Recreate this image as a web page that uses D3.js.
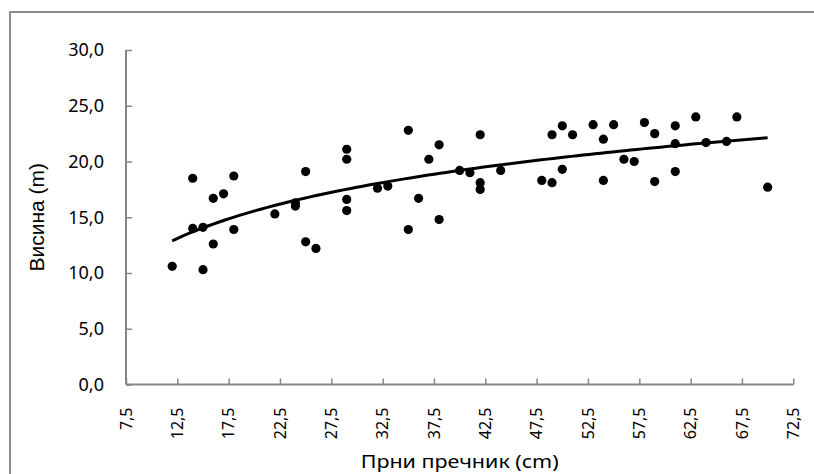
<!DOCTYPE html>
<html lang="sr">
<head>
  <meta charset="UTF-8" />
  <title>Висина / Прни пречник</title>
  <style>
    body {
      margin: 0;
      background: #fff;
    }
    svg {
      display: block;
    }
    .tick-label {
      font-family: 'Noto Sans', sans-serif;
      fill: #000;
    }
    .axis-title-x {
      font-family: 'Noto Sans', sans-serif;
      font-size: 18px;
      fill: #000;
    }
    .axis-title-y {
      font-family: 'Liberation Sans', Arial, sans-serif;
      font-size: 21px;
      fill: #000;
    }
  </style>
</head>
<body>
  <svg id="chart" width="814" height="474"></svg>

  <script src="https://d3js.org/d3.v7.min.js"></script>
  <script>
    // Data
    const diameters = [12, 14, 14, 15, 15, 16, 16, 17, 18, 18,
                       22, 24, 24, 25, 25, 26, 29, 29, 29, 29,
                       32, 33, 35, 35, 36, 37, 38, 38, 40, 41,
                       42, 42, 42, 44, 48, 49, 49, 50, 50, 51,
                       53, 54, 54, 55, 56, 57, 58, 59, 59, 61,
                       61, 61, 63, 64, 66, 67, 70];
    const heights   = [10.6, 18.5, 14.0, 14.1, 10.3, 16.7, 12.6, 17.1, 18.7, 13.9,
                       15.3, 16.3, 16.0, 19.1, 12.8, 12.2, 21.1, 20.2, 16.6, 15.6,
                       17.6, 17.8, 22.8, 13.9, 16.7, 20.2, 21.5, 14.8, 19.2, 19.0,
                       22.4, 18.1, 17.5, 19.2, 18.3, 22.4, 18.1, 23.2, 19.3, 22.4,
                       23.3, 22.0, 18.3, 23.3, 20.2, 20.0, 23.5, 22.5, 18.2, 23.2,
                       21.6, 19.1, 24.0, 21.7, 21.8, 24.0, 17.7];
    const xTicks = [7.5, 12.5, 17.5, 22.5, 27.5, 32.5, 37.5, 42.5, 47.5, 52.5, 57.5, 62.5, 67.5, 72.5];
    const yTicks = [0, 5, 10, 15, 20, 25, 30];

    const points = diameters.map((d, i) => ({ x: d, y: heights[i] }));

    const svg = d3.select("#chart");
    const margin = { top: 50, left: 126, right: 20.7, bottom: 89.5 };
    const width = +svg.attr("width");
    const height = +svg.attr("height");
    const plotW = width - margin.left - margin.right;
    const plotH = height - margin.top - margin.bottom;

    // outer chart frame (runs past the right and bottom edges)
    svg.append("rect")
       .attr("x", 10).attr("y", 12)
       .attr("width", 830).attr("height", 500)
       .attr("fill", "none")
       .attr("stroke", "#8c8c8c")
       .attr("stroke-width", 2);

    const x = d3.scaleLinear().domain([7.5, 72.5]).range([0, plotW]);
    const y = d3.scaleLinear().domain([0, 30]).range([plotH, 0]);

    const g = svg.append("g")
                 .attr("transform", `translate(${margin.left},${margin.top})`);

    const fmt = v => d3.format(".1f")(v).replace(".", ",");

    // y axis, ticks pointing into the plot
    const yAxis = g.append("g")
                   .call(d3.axisRight(y).tickValues(yTicks).tickSize(6).tickFormat(""));
    yAxis.select(".domain").remove();
    yAxis.selectAll(".tick line").attr("stroke", "#868686").attr("stroke-width", 1.5);
    g.append("line")
     .attr("x1", 0).attr("x2", 0).attr("y1", 0).attr("y2", plotH)
     .attr("stroke", "#868686").attr("stroke-width", 2);
    g.selectAll(".ylab")
     .data(yTicks)
     .enter().append("text")
     .attr("class", "tick-label")
     .attr("x", -22)
     .attr("y", d => y(d))
     .attr("dy", "0.35em")
     .attr("text-anchor", "end")
     .style("font-size", "18px")
     .text(fmt);

    // x axis, ticks pointing up
    const xAxis = g.append("g")
                   .attr("transform", `translate(0,${plotH})`)
                   .call(d3.axisTop(x).tickValues(xTicks).tickSize(6).tickFormat(""));
    xAxis.select(".domain").remove();
    xAxis.selectAll(".tick line").attr("stroke", "#868686").attr("stroke-width", 1.5);
    g.append("line")
     .attr("x1", 0).attr("x2", plotW).attr("y1", plotH).attr("y2", plotH)
     .attr("stroke", "#868686").attr("stroke-width", 2);
    g.selectAll(".xlab")
     .data(xTicks)
     .enter().append("text")
     .attr("class", "tick-label")
     .attr("transform", d => `translate(${x(d)},${plotH + 23}) rotate(-90)`)
     .attr("dy", "0.35em")
     .attr("text-anchor", "end")
     .style("font-size", "16px")
     .text(fmt);

    // logarithmic trendline, least squares fit y = a*ln(x) + b
    const lx = points.map(p => Math.log(p.x));
    const mx = d3.mean(lx);
    const my = d3.mean(points, p => p.y);
    const a = d3.sum(points, (p, i) => (lx[i] - mx) * (p.y - my)) /
              d3.sum(lx, v => (v - mx) * (v - mx));
    const b = my - a * mx;
    const [xMin, xMax] = d3.extent(diameters);
    const trend = d3.range(0, 101).map(i => {
      const xv = xMin + (xMax - xMin) * i / 100;
      return { x: xv, y: a * Math.log(xv) + b };
    });

    // points
    g.selectAll("circle")
     .data(points)
     .enter().append("circle")
     .attr("cx", d => x(d.x))
     .attr("cy", d => y(d.y))
     .attr("r", 4.6)
     .attr("fill", "#000");

    g.append("path")
     .datum(trend)
     .attr("fill", "none")
     .attr("stroke", "#000")
     .attr("stroke-width", 3)
     .attr("d", d3.line().x(d => x(d.x)).y(d => y(d.y)));

    // axis titles
    svg.append("text")
       .attr("class", "axis-title-x")
       .attr("x", margin.left + plotW / 2)
       .attr("y", 468)
       .attr("text-anchor", "middle")
       .attr("textLength", 198)
       .attr("lengthAdjust", "spacingAndGlyphs")
       .text("Прни пречник (cm)");

    svg.append("text")
       .attr("class", "axis-title-y")
       .attr("transform", `translate(43.5,${margin.top + plotH / 2}) rotate(-90)`)
       .attr("text-anchor", "middle")
       .text("Висина (m)");
  </script>
</body>
</html>
